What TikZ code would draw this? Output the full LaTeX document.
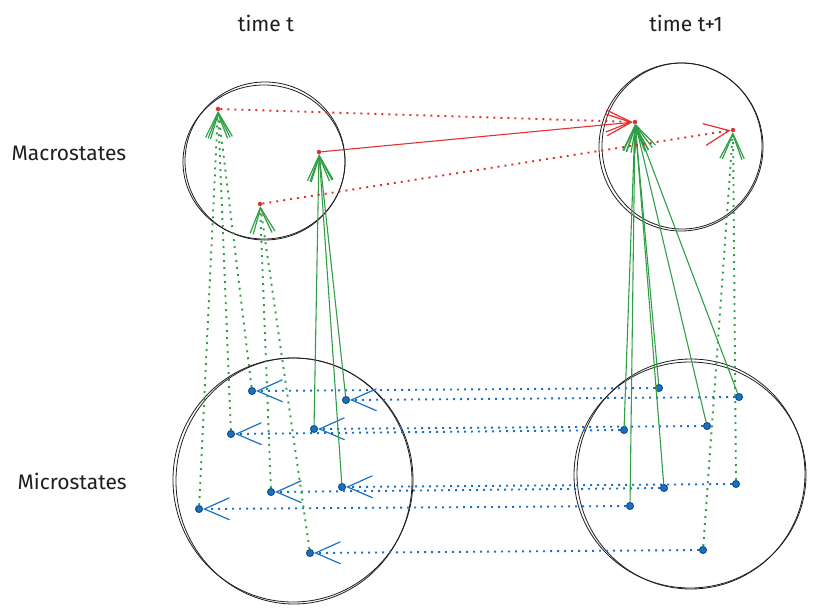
\documentclass[tikz,border=0pt]{standalone}
\usepackage{fontspec}
\setmainfont{Fira Sans}
\usepackage{xcolor}
\usetikzlibrary{arrows.meta}

\definecolor{skred}{HTML}{E03131}
\definecolor{skgreen}{HTML}{2F9E44}
\definecolor{skblue}{HTML}{1971C2}
\definecolor{skdark}{HTML}{1E1E1E}

\begin{document}
\begin{tikzpicture}[
    x=1pt, y=-1pt,
    every node/.style={font=\fontsize{21}{25}\selectfont, text=skdark},
    blob/.style={draw=skdark, line width=0.8pt},
    macdot/.style={circle, fill=skred, inner sep=0pt, minimum size=4.5pt},
    micdot/.style={circle, fill=skblue, draw=skblue!70!black, line width=1pt, inner sep=0pt, minimum size=7pt},
    tip/.style={-{Straight Barb[length=25pt, width=22pt, line width=1.2pt]}},
    dotline/.style={tip, line width=1.9pt, dash pattern=on 2pt off 5pt},
    solidline/.style={tip, line width=1.1pt},
    down/.style={dotline, skblue},
    upmac/.style={dotline, skgreen},
    upsure/.style={solidline, skgreen},
    macmove/.style={dotline, skred},
    macsure/.style={solidline, skred}
]
\useasboundingbox (0,0) rectangle (814,612);

% labels
\node (timeT)  at (266,23) {time t};
\node (timeT1) at (686,23) {time t+1};
\node[anchor=west] (macLbl) at (8,153) {Macrostates};
\node[anchor=west] (micLbl) at (14,481) {Microstates};

% sketchy state circles
\draw[blob] (265,161) ellipse [x radius=80, y radius=79];
\draw[blob] (264,162) ellipse [x radius=81, y radius=77];
\draw[blob] (681,147) ellipse [x radius=82, y radius=84];
\draw[blob] (682,146) ellipse [x radius=80, y radius=83];
\draw[blob] (293,480) ellipse [x radius=120, y radius=122];
\draw[blob] (294,481) ellipse [x radius=118, y radius=123];
\draw[blob] (691,474) ellipse [x radius=114, y radius=115];
\draw[blob] (690,475) ellipse [x radius=116, y radius=113];

% macrostates
\node[macdot] (macA) at (218,109) {};
\node[macdot] (macB) at (319,152) {};
\node[macdot] (macC) at (260,204) {};
\node[macdot] (macD) at (635,122) {};
\node[macdot] (macE) at (733,130) {};

% microstates, time t
\node[micdot] (mt1) at (252,391) {};
\node[micdot] (mt2) at (346,400) {};
\node[micdot] (mt3) at (231,434) {};
\node[micdot] (mt4) at (314,429) {};
\node[micdot] (mt5) at (271,492) {};
\node[micdot] (mt6) at (342,487) {};
\node[micdot] (mt7) at (199,509) {};
\node[micdot] (mt8) at (310,553) {};

% microstates, time t+1
\node[micdot] (mn1) at (659,388) {};
\node[micdot] (mn2) at (739,397) {};
\node[micdot] (mn3) at (624,430) {};
\node[micdot] (mn4) at (707,426) {};
\node[micdot] (mn5) at (664,488) {};
\node[micdot] (mn6) at (736,484) {};
\node[micdot] (mn7) at (630,506) {};
\node[micdot] (mn8) at (703,550) {};

% micro t+1 back to micro t
\draw[down] (mn1) -- (mt1);
\draw[down] (mn2) -- (mt2);
\draw[down] (mn3) -- (mt3);
\draw[down] (mn4) -- (mt4);
\draw[down] (mn5) -- (mt5);
\draw[down] (mn6) -- (mt6);
\draw[down] (mn7) -- (mt7);
\draw[down] (mn8) -- (mt8);

% micro to macro, time t
\draw[upmac] (mt7) -- (macA);
\draw[upmac] (mt3) -- (macA);
\draw[upmac] (mt1) -- (macA);
\draw[upmac] (mt5) -- (macC);
\draw[upmac] (mt8) -- (macC);
\draw[upsure] (mt2) -- (macB);
\draw[upsure] (mt4) -- (macB);
\draw[upsure] (mt6) -- (macB);

% micro to macro, time t+1
\draw[upsure] (mn1) -- (macD);
\draw[upsure] (mn2) -- (macD);
\draw[upsure] (mn3) -- (macD);
\draw[upsure] (mn4) -- (macD);
\draw[upsure] (mn5) -- (macD);
\draw[upsure] (mn7) -- (macD);
\draw[upmac] (mn6) -- (macE);
\draw[upmac] (mn8) -- (macE);

% macro t to macro t+1
\draw[macmove] (macA) -- (macD);
\draw[macsure] (macB) -- (macD);
\draw[macmove] (macC) -- (macE);
\end{tikzpicture}
\end{document}
